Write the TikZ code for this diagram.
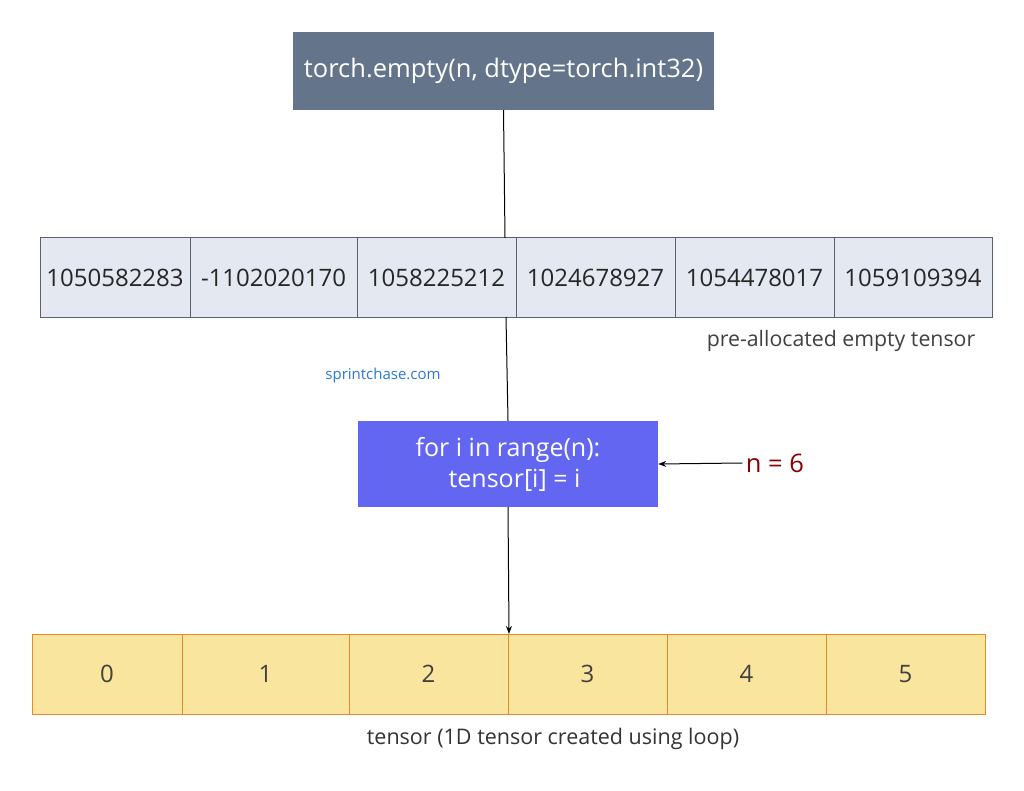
\documentclass[tikz,border=0pt]{standalone}
\usepackage{fontspec}
\setmainfont{Open Sans}
\usetikzlibrary{arrows.meta}
\definecolor{slate}{HTML}{64748B}
\definecolor{graycell}{HTML}{E4E8F0}
\definecolor{grayline}{HTML}{5A6170}
\definecolor{indigo}{HTML}{6366F1}
\definecolor{yel}{HTML}{FAE59E}
\definecolor{org}{HTML}{E8892C}
\definecolor{dred}{HTML}{8B0000}
\tikzset{
  gcell/.style={draw=grayline,fill=graycell,line width=1pt},
  ycell/.style={draw=org,fill=yel,line width=1pt},
  txt/.style={font=\fontsize{24}{28}\selectfont,text=black!85},
  conn/.style={line width=1pt,black}
}
\begin{document}
\begin{tikzpicture}[x=1pt,y=-1pt]
\useasboundingbox (0,0) rectangle (1024,791);
\node[fill=slate,minimum width=421pt,minimum height=78pt,text=white,font=\fontsize{25.5}{30}\selectfont] (top) at (503.5,71) {torch.empty(n, dtype=torch.int32)};
% row 1
\foreach \a/\b/\t [count=\i] in {40/190/1050582283,190/357/-1102020170,357/516/1058225212,516/675/1024678927,675/834/1054478017,834/992/1059109394}{
  \draw[gcell] (\a,238) rectangle (\b,317);
  \node[txt] (g\i) at ({(\a+\b)/2},277.5) {\t};
}
\coordinate (r1t) at (505,238);
\coordinate (r1b) at (506,317);
\node[font=\fontsize{21.3}{25}\selectfont,text=black!75] (lab1) at (841,341) {pre-allocated empty tensor};
\node[font=\fontsize{15}{18}\selectfont,text={rgb,255:red,40;green,120;blue,220}] (web) at (383,376) {sprintchase.com};
\node[fill=indigo,minimum width=300pt,minimum height=86pt,text=white,align=center,font=\fontsize{25}{31}\selectfont] (loop) at (508,464) {for i in range(n):\\\ \ tensor[i] = i};
\node[font=\fontsize{25.5}{30}\selectfont,text=dred] (n) at (775,463) {n = 6};
% row 2
\foreach \a/\b/\t [count=\i] in {32/182/0,182/349/1,349/508/2,508/667/3,667/826/4,826/985/5}{
  \draw[ycell] (\a,634) rectangle (\b,714);
  \node[txt,text=black!75] (y\i) at ({(\a+\b)/2},674) {\t};
}
\coordinate (r2t) at (509,634);
\node[font=\fontsize{21.5}{25}\selectfont,text=black!80] (lab2) at (553,739) {tensor (1D tensor created using loop)};
\draw[conn] (top.south) -- (r1t);
\draw[conn] (r1b) -- (loop.north);
\draw[conn,-{Stealth[length=8pt,width=6pt]}] (loop.south) -- (r2t);
\draw[conn,-{Stealth[length=8pt,width=6pt]}] (n.west) -- (loop.east);
\end{tikzpicture}
\end{document}
